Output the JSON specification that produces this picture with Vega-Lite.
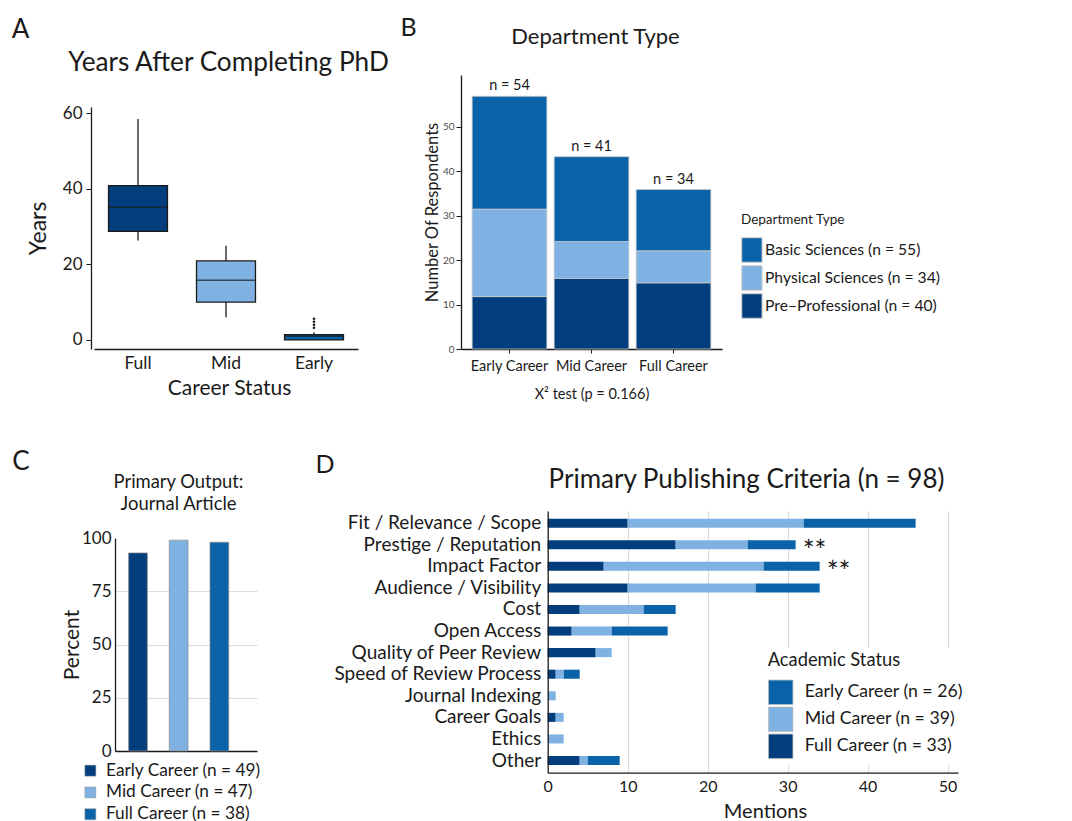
{
  "$schema": "https://vega.github.io/schema/vega-lite/v6.json",
  "width": 1072,
  "height": 821,
  "autosize": {"type": "none"},
  "padding": 0,
  "background": "white",
  "config": {
    "font": "Lato",
    "view": {"stroke": null},
    "axis": {"labelFont": "Lato", "titleFont": "Lato", "titleFontWeight": "normal", "labelColor": "#1a1a1a", "titleColor": "#1a1a1a", "domainColor": "#1a1a1a", "tickColor": "#1a1a1a", "domainWidth": 1.3, "grid": false, "labelFlush": false, "labelOverlap": false, "labelAngle": 0, "labelLimit": 400},
    "legend": {"labelFont": "Lato", "titleFont": "Lato", "titleFontWeight": "normal", "labelColor": "#1a1a1a", "titleColor": "#1a1a1a", "labelLimit": 400}
  },
  "datasets": {
    "boxA": [
      {"status": "Full", "lower": 26.3, "q1": 28.7, "median": 35.1, "q3": 40.8, "upper": 58.4},
      {"status": "Mid", "lower": 6.0, "q1": 10.0, "median": 15.8, "q3": 20.9, "upper": 24.9},
      {"status": "Early", "lower": 0, "q1": 0, "median": 1, "q3": 1.4, "upper": 2}
    ],
    "outA": [
      {"status": "Early", "years": 3.2},
      {"status": "Early", "years": 4.0},
      {"status": "Early", "years": 4.8},
      {"status": "Early", "years": 5.6}
    ],
    "deptB": [
      {"career": "Early Career", "dept": "Pre–Professional (n = 40)", "count": 11.8},
      {"career": "Early Career", "dept": "Physical Sciences (n = 34)", "count": 19.7},
      {"career": "Early Career", "dept": "Basic Sciences (n = 55)", "count": 25.4},
      {"career": "Mid Career", "dept": "Pre–Professional (n = 40)", "count": 15.9},
      {"career": "Mid Career", "dept": "Physical Sciences (n = 34)", "count": 8.3},
      {"career": "Mid Career", "dept": "Basic Sciences (n = 55)", "count": 19.1},
      {"career": "Full Career", "dept": "Pre–Professional (n = 40)", "count": 14.9},
      {"career": "Full Career", "dept": "Physical Sciences (n = 34)", "count": 7.2},
      {"career": "Full Career", "dept": "Basic Sciences (n = 55)", "count": 13.8}
    ],
    "nB": [
      {"career": "Early Career", "total": 56.9, "label": "n = 54"},
      {"career": "Mid Career", "total": 43.3, "label": "n = 41"},
      {"career": "Full Career", "total": 35.9, "label": "n = 34"}
    ],
    "pctC": [
      {"career": "Early Career (n = 49)", "pct": 93},
      {"career": "Mid Career (n = 47)", "pct": 99},
      {"career": "Full Career (n = 38)", "pct": 98}
    ],
    "critD": [
      {"criterion": "Fit / Relevance / Scope", "career": "Full Career (n = 33)", "rank": 1, "mentions": 10},
      {"criterion": "Fit / Relevance / Scope", "career": "Mid Career (n = 39)", "rank": 2, "mentions": 22},
      {"criterion": "Fit / Relevance / Scope", "career": "Early Career (n = 26)", "rank": 3, "mentions": 14},
      {"criterion": "Prestige / Reputation", "career": "Full Career (n = 33)", "rank": 1, "mentions": 16},
      {"criterion": "Prestige / Reputation", "career": "Mid Career (n = 39)", "rank": 2, "mentions": 9},
      {"criterion": "Prestige / Reputation", "career": "Early Career (n = 26)", "rank": 3, "mentions": 6},
      {"criterion": "Impact Factor", "career": "Full Career (n = 33)", "rank": 1, "mentions": 7},
      {"criterion": "Impact Factor", "career": "Mid Career (n = 39)", "rank": 2, "mentions": 20},
      {"criterion": "Impact Factor", "career": "Early Career (n = 26)", "rank": 3, "mentions": 7},
      {"criterion": "Audience / Visibility", "career": "Full Career (n = 33)", "rank": 1, "mentions": 10},
      {"criterion": "Audience / Visibility", "career": "Mid Career (n = 39)", "rank": 2, "mentions": 16},
      {"criterion": "Audience / Visibility", "career": "Early Career (n = 26)", "rank": 3, "mentions": 8},
      {"criterion": "Cost", "career": "Full Career (n = 33)", "rank": 1, "mentions": 4},
      {"criterion": "Cost", "career": "Mid Career (n = 39)", "rank": 2, "mentions": 8},
      {"criterion": "Cost", "career": "Early Career (n = 26)", "rank": 3, "mentions": 4},
      {"criterion": "Open Access", "career": "Full Career (n = 33)", "rank": 1, "mentions": 3},
      {"criterion": "Open Access", "career": "Mid Career (n = 39)", "rank": 2, "mentions": 5},
      {"criterion": "Open Access", "career": "Early Career (n = 26)", "rank": 3, "mentions": 7},
      {"criterion": "Quality of Peer Review", "career": "Full Career (n = 33)", "rank": 1, "mentions": 6},
      {"criterion": "Quality of Peer Review", "career": "Mid Career (n = 39)", "rank": 2, "mentions": 2},
      {"criterion": "Speed of Review Process", "career": "Full Career (n = 33)", "rank": 1, "mentions": 1},
      {"criterion": "Speed of Review Process", "career": "Mid Career (n = 39)", "rank": 2, "mentions": 1},
      {"criterion": "Speed of Review Process", "career": "Early Career (n = 26)", "rank": 3, "mentions": 2},
      {"criterion": "Journal Indexing", "career": "Mid Career (n = 39)", "rank": 2, "mentions": 1},
      {"criterion": "Career Goals", "career": "Full Career (n = 33)", "rank": 1, "mentions": 1},
      {"criterion": "Career Goals", "career": "Mid Career (n = 39)", "rank": 2, "mentions": 1},
      {"criterion": "Ethics", "career": "Mid Career (n = 39)", "rank": 2, "mentions": 2},
      {"criterion": "Other", "career": "Full Career (n = 33)", "rank": 1, "mentions": 4},
      {"criterion": "Other", "career": "Mid Career (n = 39)", "rank": 2, "mentions": 1},
      {"criterion": "Other", "career": "Early Career (n = 26)", "rank": 3, "mentions": 4}
    ],
    "starsD": [
      {"criterion": "Prestige / Reputation", "mentions": 31, "label": "**"},
      {"criterion": "Impact Factor", "mentions": 34, "label": "**"}
    ]
  },
  "layer": [
    {
      "data": {"name": "boxA"},
      "resolve": {"axis": {"x": "independent", "y": "independent"}},
      "layer": [
        {
          "mark": {"type": "rule", "color": "#1a1a1a", "strokeWidth": 1.3},
          "encoding": {
            "x": {"field": "status", "type": "nominal", "sort": ["Full", "Mid", "Early"],
              "scale": {"domain": ["Full", "Mid", "Early"], "range": [94, 358], "paddingInner": 0, "paddingOuter": 0},
              "axis": {"orient": "top", "offset": -107, "labels": false, "ticks": false, "domain": false, "title": "Years After Completing PhD", "titleFontSize": 26.2, "titleX": 228, "titleY": -37, "titleBaseline": "alphabetic", "titleAlign": "center"}},
            "y": {"field": "lower", "type": "quantitative",
              "scale": {"domain": [-2.4, 61.6], "range": [349, 107], "nice": false, "zero": false},
              "axis": {"orient": "left", "offset": 0, "labels": false, "ticks": false, "domain": false, "title": "A", "titleAngle": 0, "titleX": 20, "titleY": 37, "titleAlign": "center", "titleBaseline": "alphabetic", "titleFontSize": 26}},
            "y2": {"field": "upper"}
          }
        },
        {
          "mark": {"type": "bar", "stroke": "#1a1a1a", "strokeWidth": 1.3, "width": {"band": 0.67}},
          "encoding": {
            "x": {"field": "status", "type": "nominal", "sort": ["Full", "Mid", "Early"],
              "scale": {"domain": ["Full", "Mid", "Early"], "range": [94, 358], "paddingInner": 0, "paddingOuter": 0},
              "axis": {"orient": "bottom", "offset": -472, "labelFontSize": 17.5, "tickSize": 0, "labelPadding": 5, "title": "Career Status", "titleFontSize": 21, "titleX": 229, "titleY": 39, "titleBaseline": "middle"}},
            "y": {"field": "q1", "type": "quantitative",
              "scale": {"domain": [-2.4, 61.6], "range": [349, 107], "nice": false, "zero": false},
              "axis": {"orient": "left", "offset": -91, "values": [0, 20, 40, 60], "labelFontSize": 17, "tickSize": 5, "labelPadding": 4, "title": "Years", "titleFontSize": 23, "titleX": -53, "titleBaseline": "middle"}},
            "y2": {"field": "q3"},
            "color": {"field": "status", "type": "nominal", "scale": {"domain": ["Full", "Mid", "Early"], "range": ["#023e7d", "#80b1e3", "#0a62a8"]}, "legend": null}
          }
        },
        {
          "mark": {"type": "tick", "color": "#1a1a1a", "thickness": 1.6, "size": 59},
          "encoding": {
            "x": {"field": "status", "type": "nominal", "sort": ["Full", "Mid", "Early"],
              "scale": {"domain": ["Full", "Mid", "Early"], "range": [94, 358], "paddingInner": 0, "paddingOuter": 0}, "axis": null},
            "y": {"field": "median", "type": "quantitative",
              "scale": {"domain": [-2.4, 61.6], "range": [349, 107], "nice": false, "zero": false}, "axis": null}
          }
        },
        {
          "data": {"name": "outA"},
          "mark": {"type": "circle", "size": 7, "color": "#1a1a1a", "opacity": 1},
          "encoding": {
            "x": {"field": "status", "type": "nominal", "sort": ["Full", "Mid", "Early"],
              "scale": {"domain": ["Full", "Mid", "Early"], "range": [94, 358], "paddingInner": 0, "paddingOuter": 0}, "axis": null},
            "y": {"field": "years", "type": "quantitative",
              "scale": {"domain": [-2.4, 61.6], "range": [349, 107], "nice": false, "zero": false}, "axis": null}
          }
        }
      ]
    },
    {
      "resolve": {"axis": {"x": "independent", "y": "independent"}},
      "layer": [
        {
          "data": {"name": "deptB"},
          "mark": {"type": "bar", "stroke": "#c8c8c8", "strokeWidth": 0.8},
          "encoding": {
            "x": {"field": "career", "type": "nominal", "sort": ["Early Career", "Mid Career", "Full Career"],
              "scale": {"domain": ["Early Career", "Mid Career", "Full Career"], "range": [461, 722], "paddingInner": 0.089, "paddingOuter": 0.136},
              "axis": {"orient": "bottom", "offset": -472, "labelFontSize": 14.5, "tickSize": 4, "labelPadding": 6, "title": "X² test (p = 0.166)", "titleFontSize": 14.5, "titleY": 45, "titleBaseline": "middle"}},
            "y": {"field": "count", "type": "quantitative", "stack": "zero",
              "scale": {"domain": [0, 61.7], "range": [349, 75], "nice": false},
              "axis": {"orient": "left", "offset": -461, "values": [0, 10, 20, 30, 40, 50], "labelFontSize": 10, "labelColor": "#4d4d4d", "tickSize": 5, "labelPadding": 2, "title": "Number Of Respondents", "titleFontSize": 16.5, "titleX": -29, "titleBaseline": "middle"}},
            "color": {"field": "dept", "type": "nominal",
              "scale": {"domain": ["Basic Sciences (n = 55)", "Physical Sciences (n = 34)", "Pre–Professional (n = 40)"], "range": ["#0a62a8", "#80b1e3", "#023e7d"]},
              "legend": {"orient": "none", "legendX": 741, "legendY": 212.5, "title": "Department Type", "titleFontSize": 13.5, "titlePadding": 11, "labelFontSize": 15.7, "symbolType": "M-1,-1H0.66V1H-1Z", "symbolSize": 600, "symbolStrokeColor": "#cccccc", "symbolStrokeWidth": 1, "symbolOpacity": 1, "rowPadding": -2, "labelOffset": -2, "padding": 0}},
            "order": {"field": "dept", "sort": "descending"}
          }
        },
        {
          "data": {"name": "nB"},
          "mark": {"type": "text", "baseline": "alphabetic", "dy": -6, "fontSize": 14.5, "color": "#1a1a1a"},
          "encoding": {
            "x": {"field": "career", "type": "nominal", "sort": ["Early Career", "Mid Career", "Full Career"],
              "scale": {"domain": ["Early Career", "Mid Career", "Full Career"], "range": [461, 722], "paddingInner": 0.089, "paddingOuter": 0.136},
              "axis": {"orient": "top", "offset": -75, "labels": false, "ticks": false, "domain": false, "title": "Department Type", "titleFontSize": 22, "titleX": 595, "titleY": -32, "titleBaseline": "alphabetic", "titleAlign": "center"}},
            "y": {"field": "total", "type": "quantitative",
              "scale": {"domain": [0, 61.7], "range": [349, 75], "nice": false},
              "axis": {"orient": "left", "offset": 0, "labels": false, "ticks": false, "domain": false, "title": "B", "titleAngle": 0, "titleX": 408, "titleY": 35, "titleAlign": "center", "titleBaseline": "alphabetic", "titleFontSize": 25}},
            "text": {"field": "label", "type": "nominal"}
          }
        }
      ]
    },
    {
      "data": {"name": "pctC"},
      "resolve": {"axis": {"x": "independent", "y": "independent"}},
      "layer": [
        {
          "mark": {"type": "bar"},
          "encoding": {
            "x": {"field": "career", "type": "nominal", "sort": ["Early Career (n = 49)", "Mid Career (n = 47)", "Full Career (n = 38)"],
              "scale": {"domain": ["Early Career (n = 49)", "Mid Career (n = 47)", "Full Career (n = 38)"], "range": [115, 257], "paddingInner": 0.54, "paddingOuter": 0.515, "align": 0.325},
              "axis": {"orient": "top", "offset": -538, "labels": false, "ticks": false, "domain": false, "title": ["Primary Output:", "Journal Article"], "titleFontSize": 18.4, "titleLineHeight": 22.7, "titleX": 178, "titleY": -51, "titleBaseline": "alphabetic", "titleAlign": "center"}},
            "y": {"field": "pct", "type": "quantitative",
              "scale": {"domain": [0, 100], "range": [751, 538], "nice": false},
              "axis": {"orient": "left", "offset": -115, "values": [0, 25, 50, 75, 100], "labelFontSize": 17, "tickSize": 0, "labelPadding": 4, "grid": true, "gridColor": {"condition": {"test": "datum.value === 0 || datum.value === 100", "value": "transparent"}, "value": "#dcdcdc"}, "gridWidth": 1.2, "title": "Percent", "titleFontSize": 21, "titleX": -43, "titleBaseline": "middle"}},
            "color": {"field": "career", "type": "nominal",
              "scale": {"domain": ["Early Career (n = 49)", "Mid Career (n = 47)", "Full Career (n = 38)"], "range": ["#023e7d", "#80b1e3", "#0a62a8"]},
              "legend": {"orient": "none", "legendX": 81.7, "legendY": 762, "title": null, "labelFontSize": 17.3, "symbolType": "square", "symbolSize": 121, "symbolStrokeColor": "#999999", "symbolStrokeWidth": 0.5, "symbolOpacity": 1, "rowPadding": 3.8, "labelOffset": 7, "padding": 0}}
          }
        },
        {
          "mark": {"type": "bar", "fillOpacity": 0, "stroke": "#8a8a8a", "strokeWidth": 0.7},
          "encoding": {
            "x": {"field": "career", "type": "nominal", "sort": ["Early Career (n = 49)", "Mid Career (n = 47)", "Full Career (n = 38)"],
              "scale": {"domain": ["Early Career (n = 49)", "Mid Career (n = 47)", "Full Career (n = 38)"], "range": [115, 257], "paddingInner": 0.54, "paddingOuter": 0.515, "align": 0.325},
              "axis": {"orient": "bottom", "offset": -70, "labels": false, "ticks": false, "title": null}},
            "y": {"field": "pct", "type": "quantitative",
              "scale": {"domain": [0, 100], "range": [751, 538], "nice": false},
              "axis": {"orient": "left", "offset": 0, "labels": false, "ticks": false, "domain": false, "title": "C", "titleAngle": 0, "titleX": 20.5, "titleY": 469, "titleAlign": "center", "titleBaseline": "alphabetic", "titleFontSize": 26}}
          }
        }
      ]
    },
    {
      "resolve": {"axis": {"x": "independent", "y": "independent"}},
      "layer": [
        {
          "data": {"name": "critD"},
          "mark": {"type": "bar"},
          "encoding": {
            "y": {"field": "criterion", "type": "nominal",
              "sort": ["Fit / Relevance / Scope", "Prestige / Reputation", "Impact Factor", "Audience / Visibility", "Cost", "Open Access", "Quality of Peer Review", "Speed of Review Process", "Journal Indexing", "Career Goals", "Ethics", "Other"],
              "scale": {"domain": ["Fit / Relevance / Scope", "Prestige / Reputation", "Impact Factor", "Audience / Visibility", "Cost", "Open Access", "Quality of Peer Review", "Speed of Review Process", "Journal Indexing", "Career Goals", "Ethics", "Other"], "range": [511, 772.7], "paddingInner": 0.58, "paddingOuter": 0.355},
              "axis": {"orient": "left", "offset": -547.7, "ticks": false, "labelPadding": 7, "labelFontSize": 19, "title": null, "zindex": 1}},
            "x": {"field": "mentions", "type": "quantitative", "stack": "zero",
              "scale": {"domain": [0, 51.3], "range": [547.7, 958], "nice": false},
              "axis": {"orient": "bottom", "offset": -48.3, "values": [0, 10, 20, 30, 40, 50], "tickSize": 0, "labelPadding": 6, "labelFontSize": 16, "title": "Mentions", "titleFontSize": 20, "titleX": 765, "titleY": 39, "titleBaseline": "middle", "zindex": 1}},
            "color": {"field": "career", "type": "nominal",
              "scale": {"domain": ["Early Career (n = 26)", "Mid Career (n = 39)", "Full Career (n = 33)"], "range": ["#0a62a8", "#80b1e3", "#023e7d"]},
              "legend": {"orient": "none", "legendX": 763.7, "legendY": 648, "fillColor": "white", "padding": 4, "title": "Academic Status", "titleFontSize": 18.3, "titlePadding": 9, "labelFontSize": 17.7, "symbolType": "square", "symbolSize": 600, "symbolStrokeColor": "#bbbbbb", "symbolStrokeWidth": 0.8, "symbolOpacity": 1, "rowPadding": -2, "labelOffset": 11}},
            "order": {"field": "rank", "type": "quantitative"}
          }
        },
        {
          "data": {"name": "starsD"},
          "mark": {"type": "text", "align": "left", "baseline": "middle", "dx": 7, "dy": 8, "fontSize": 28, "color": "#1a1a1a"},
          "encoding": {
            "y": {"field": "criterion", "type": "nominal",
              "sort": ["Fit / Relevance / Scope", "Prestige / Reputation", "Impact Factor", "Audience / Visibility", "Cost", "Open Access", "Quality of Peer Review", "Speed of Review Process", "Journal Indexing", "Career Goals", "Ethics", "Other"],
              "scale": {"domain": ["Fit / Relevance / Scope", "Prestige / Reputation", "Impact Factor", "Audience / Visibility", "Cost", "Open Access", "Quality of Peer Review", "Speed of Review Process", "Journal Indexing", "Career Goals", "Ethics", "Other"], "range": [511, 772.7], "paddingInner": 0.58, "paddingOuter": 0.355},
              "axis": {"orient": "left", "offset": 0, "labels": false, "ticks": false, "domain": false, "title": "D", "titleAngle": 0, "titleX": 324.5, "titleY": 472, "titleAlign": "center", "titleBaseline": "alphabetic", "titleFontSize": 25}},
            "x": {"field": "mentions", "type": "quantitative",
              "scale": {"domain": [0, 51.3], "range": [547.7, 958], "nice": false},
              "axis": {"orient": "top", "offset": -511, "labels": false, "ticks": false, "domain": false, "grid": true, "values": [10, 20, 30, 40, 50], "gridColor": "#dcdcdc", "gridWidth": 1.2, "title": "Primary Publishing Criteria (n = 98)", "titleFontSize": 26, "titleX": 746, "titleY": -24, "titleBaseline": "alphabetic", "titleAlign": "center"}},
            "text": {"field": "label", "type": "nominal"}
          }
        }
      ]
    }
  ],
  "resolve": {
    "scale": {"x": "independent", "y": "independent", "color": "independent"},
    "axis": {"x": "independent", "y": "independent"},
    "legend": {"color": "independent"}
  }
}
